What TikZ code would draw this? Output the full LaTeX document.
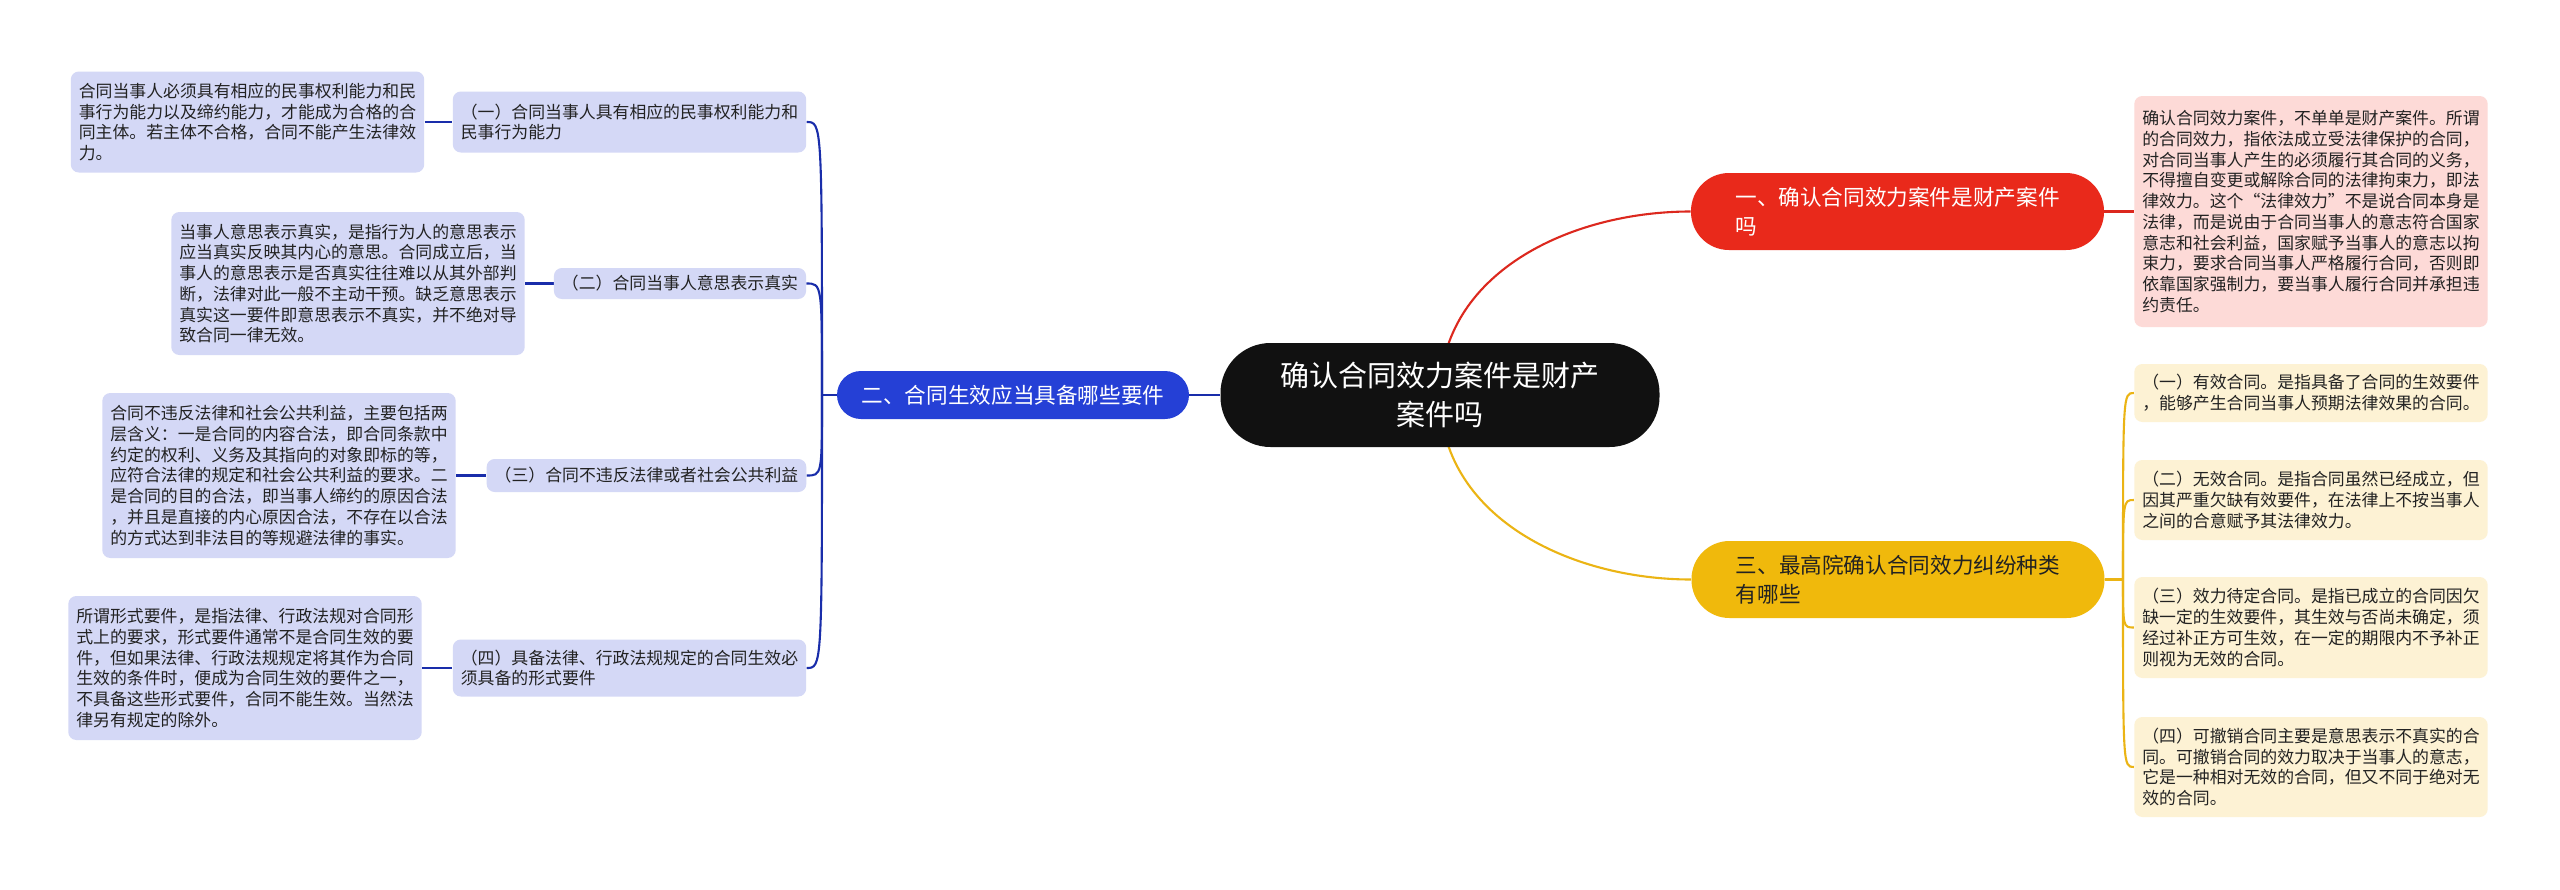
\documentclass[tikz,border=0pt]{standalone}
\usepackage{fontspec}
\setmainfont{Noto Sans CJK SC}
\usepackage{tikz}
\usetikzlibrary{backgrounds}
\definecolor{rootblack}{RGB}{17,17,17}
\definecolor{textgray}{RGB}{34,34,34}
\definecolor{redtopic}{RGB}{233,41,27}
\definecolor{redline}{RGB}{220,40,30}
\definecolor{pinknote}{RGB}{253,218,215}
\definecolor{bluetopic}{RGB}{37,64,214}
\definecolor{blueline}{RGB}{25,45,170}
\definecolor{lavender}{RGB}{212,216,246}
\definecolor{yellowtopic}{RGB}{240,185,12}
\definecolor{yellowline}{RGB}{235,180,20}
\definecolor{yellownote}{RGB}{253,242,212}

\begin{document}
\begin{tikzpicture}[x=0.2mm, y=-0.2mm, every node/.style={font=\fontsize{9.6}{11.8}\selectfont, text=textgray}]
\tikzstyle{topic}=[rounded corners=7.6mm, minimum width=82.6mm, minimum height=15.4mm, align=left, font=\fontsize{12.3}{16.5}\selectfont]
\tikzstyle{note}=[rounded corners=1.6mm, minimum width=70.4mm, inner xsep=1.6mm, inner ysep=1mm, align=left]
\tikzstyle{sub}=[rounded corners=1.6mm, fill=lavender, inner xsep=1.6mm, inner ysep=1mm, align=left]
\tikzstyle{link}=[line width=0.42mm]
\useasboundingbox (0,0) rectangle (2560,890);

% centre
\node[fill=rootblack, text=white, rounded corners=10mm, minimum width=87.8mm, minimum height=20.8mm, align=center, font=\fontsize{16.5}{22}\selectfont] (root) at (1440,395) {确认合同效力案件是财产\\案件吗};

% one
\node[topic, fill=redtopic, text=white] (one) at (1897.5,211.5) {一、确认合同效力案件是财产案件\\吗};
\node[note, fill=pinknote, minimum height=46.2mm] (onenote) at (2311,211.5) {确认合同效力案件，不单单是财产案件。所谓\\的合同效力，指依法成立受法律保护的合同，\\对合同当事人产生的必须履行其合同的义务，\\不得擅自变更或解除合同的法律拘束力，即法\\律效力。这个“法律效力”不是说合同本身是\\法律，而是说由于合同当事人的意志符合国家\\意志和社会利益，国家赋予当事人的意志以拘\\束力，要求合同当事人严格履行合同，否则即\\依靠国家强制力，要当事人履行合同并承担违\\约责任。};

% two
\node[topic, fill=bluetopic, text=white, rounded corners=4.8mm, minimum width=70.4mm, minimum height=9.6mm, align=center] (two) at (1013,395) {二、合同生效应当具备哪些要件};
\coordinate (twojoint) at (822,395);
\node[sub, minimum width=70.2mm, minimum height=12.2mm] (twoa) at (629.5,122) {（一）合同当事人具有相应的民事权利能力和\\民事行为能力};
\node[sub, minimum width=50mm, minimum height=6.2mm] (twob) at (680,283.5) {（二）合同当事人意思表示真实};
\node[sub, minimum width=63.4mm, minimum height=6.6mm] (twoc) at (646.5,475.5) {（三）合同不违反法律或者社会公共利益};
\node[sub, minimum width=70.2mm, minimum height=11.4mm] (twod) at (629.5,668) {（四）具备法律、行政法规规定的合同生效必\\须具备的形式要件};
\node[note, fill=lavender, minimum width=70.2mm, minimum height=20.2mm] (notea) at (247.5,122) {合同当事人必须具有相应的民事权利能力和民\\事行为能力以及缔约能力，才能成为合格的合\\同主体。若主体不合格，合同不能产生法律效\\力。};
\node[note, fill=lavender, minimum width=70mm, minimum height=28.6mm] (noteb) at (348,283.5) {当事人意思表示真实，是指行为人的意思表示\\应当真实反映其内心的意思。合同成立后，当\\事人的意思表示是否真实往往难以从其外部判\\断，法律对此一般不主动干预。缺乏意思表示\\真实这一要件即意思表示不真实，并不绝对导\\致合同一律无效。};
\node[note, fill=lavender, minimum height=33mm] (notec) at (279,475.5) {合同不违反法律和社会公共利益，主要包括两\\层含义：一是合同的内容合法，即合同条款中\\约定的权利、义务及其指向的对象即标的等，\\应符合法律的规定和社会公共利益的要求。二\\是合同的目的合法，即当事人缔约的原因合法\\，并且是直接的内心原因合法，不存在以合法\\的方式达到非法目的等规避法律的事实。};
\node[note, fill=lavender, minimum height=28.8mm] (noted) at (245,668) {所谓形式要件，是指法律、行政法规对合同形\\式上的要求，形式要件通常不是合同生效的要\\件，但如果法律、行政法规规定将其作为合同\\生效的条件时，便成为合同生效的要件之一，\\不具备这些形式要件，合同不能生效。当然法\\律另有规定的除外。};

% three
\node[topic, fill=yellowtopic] (three) at (1898,579.5) {三、最高院确认合同效力纠纷种类\\有哪些};
\coordinate (threejoint) at (2123,579.5);
\node[note, fill=yellownote, minimum height=11.6mm] (threea) at (2311,393) {（一）有效合同。是指具备了合同的生效要件\\，能够产生合同当事人预期法律效果的合同。};
\node[note, fill=yellownote, minimum height=16mm] (threeb) at (2311,500) {（二）无效合同。是指合同虽然已经成立，但\\因其严重欠缺有效要件，在法律上不按当事人\\之间的合意赋予其法律效力。};
\node[note, fill=yellownote, minimum height=20.2mm] (threec) at (2311,627.5) {（三）效力待定合同。是指已成立的合同因欠\\缺一定的生效要件，其生效与否尚未确定，须\\经过补正方可生效，在一定的期限内不予补正\\则视为无效的合同。};
\node[note, fill=yellownote, minimum height=20mm] (threed) at (2311,767) {（四）可撤销合同主要是意思表示不真实的合\\同。可撤销合同的效力取决于当事人的意志，\\它是一种相对无效的合同，但又不同于绝对无\\效的合同。};

\begin{scope}[on background layer]
\fill[white] (0,0) rectangle (2560,890);
\draw[link, redline] (root.center) to[out=90, in=180] (one.west);
\draw[link, redline] (one.east) -- (onenote.west);
\draw[link, yellowline] (root.center) to[out=-90, in=180] (three.west);
\draw[link, yellowline] (three.east) -- (threejoint);
\foreach \n in {threea,threeb,threec,threed}
  \draw[link, yellowline] (threejoint) .. controls (threejoint |- \n.west) .. (\n.west);
\draw[link, blueline] (root.west) -- (two.east);
\draw[link, blueline] (two.west) -- (twojoint);
\foreach \n/\m in {twoa/notea,twob/noteb,twoc/notec,twod/noted} {
  \draw[link, blueline] (twojoint) .. controls (twojoint |- \n.east) .. (\n.east);
  \draw[link, blueline] (\m.east) -- (\n.west);
}
\end{scope}
\end{tikzpicture}
\end{document}
